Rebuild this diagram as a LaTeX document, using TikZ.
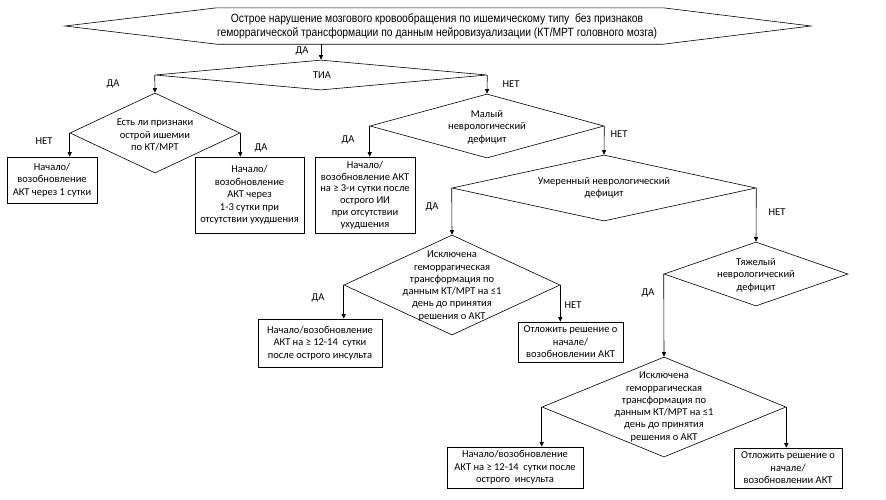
\documentclass[tikz,border=0pt]{standalone}
\usepackage{fontspec}
\setmainfont{Carlito}
\newfontfamily\narrowfont[FakeStretch=0.86]{Liberation Sans}
\usetikzlibrary{shapes.geometric,arrows.meta}
\begin{document}
\begin{tikzpicture}[x=1pt,y=-1pt,
  every node/.style={font=\fontsize{10.5}{12.5}\selectfont},
  dia/.style={draw, diamond, inner sep=0pt, line width=0.6pt},
  box/.style={draw, rectangle, line width=0.6pt, align=center, inner sep=1pt},
  txt/.style={align=center, inner sep=0pt},
  lbl/.style={inner sep=0pt},
  arr/.style={-{Triangle[length=4.5pt,width=4pt]}, line width=0.6pt}]
\useasboundingbox[fill=white] (0,0) rectangle (886,499);

% top hexagon
\node[minimum width=446pt, minimum height=36pt, inner sep=0pt] (top) at (440,26) {};
\draw[line width=0.6pt] (top.north west) -- (top.north east) -- (811,26) -- (top.south east) -- (top.south west) -- (65,26) -- cycle;
\node[txt, font=\narrowfont\fontsize{12}{14}\selectfont] (toptxt) at (437,26) {Острое нарушение мозгового кровообращения по ишемическому типу \ без признаков\\геморрагической трансформации по данным нейровизуализации (КТ/МРТ головного мозга)};

% diamonds
\node[dia, minimum width=332pt, minimum height=30pt] (tia) at (321,75) {};
\node[txt] (tiatxt) at (322,75) {ТИА};
\node[dia, minimum width=170pt, minimum height=80pt] (est) at (155,133) {};
\node[txt] (esttxt) at (155,135) {Есть ли признаки\\острой ишемии\\по КТ/МРТ};
\node[dia, minimum width=234pt, minimum height=64pt] (maly) at (487,126) {};
\node[txt] (malytxt) at (487,127) {Малый\\неврологический\\дефицит};
\node[dia, minimum width=304pt, minimum height=66pt] (umer) at (604,188) {};
\node[txt] (umertxt) at (604,188) {Умеренный неврологический\\дефицит};
\node[dia, minimum width=184pt, minimum height=64pt] (tyazh) at (756,274) {};
\node[txt] (tyazhtxt) at (756,275) {Тяжелый\\неврологический\\дефицит};
\node[dia, minimum width=216pt, minimum height=100pt] (isk1) at (452,285) {};
\node[txt, font=\fontsize{10.5}{12.3}\selectfont] (isk1txt) at (452,286) {Исключена\\геморрагическая\\трансформация по\\данным КТ/МРТ на ≤1\\день до принятия\\решения о АКТ};
\node[dia, minimum width=244pt, minimum height=100pt] (isk2) at (664,407) {};
\node[txt, font=\fontsize{10.5}{12.3}\selectfont] (isk2txt) at (664,407) {Исключена\\геморрагическая\\трансформация по\\данным КТ/МРТ на ≤1\\день до принятия\\решения о АКТ};

% boxes
\node[box, minimum width=90pt, minimum height=46pt] (b1) at (52,180) {Начало/\\возобновление\\АКТ через 1 сутки};
\node[box, minimum width=109pt, minimum height=76pt] (b2) at (249.5,195) {Начало/\\возобновление\\АКТ через\\1-3 сутки при\\отсутствии ухудшения};
\node[box, minimum width=100pt, minimum height=76pt, font=\fontsize{10.5}{11.8}\selectfont] (b3) at (365,195) {Начало/\\возобновление АКТ\\на ≥ 3-и сутки после\\острого ИИ\\при отсутствии\\ухудшения};
\node[box, minimum width=124pt, minimum height=48pt] (b4) at (320,343) {Начало/возобновление\\АКТ на ≥ 12-14 \ сутки\\после острого инсульта};
\node[box, minimum width=105pt, minimum height=40pt] (o1) at (570.5,342) {Отложить решение о\\начале/\\возобновлении АКТ};
\node[box, minimum width=136pt, minimum height=41pt] (b5) at (515,467.5) {Начало/возобновление\\АКТ на ≥ 12-14 \ сутки после\\острого \ инсульта};
\node[box, minimum width=108pt, minimum height=40pt] (b6) at (788,468) {Отложить решение о\\начале/\\возобновлении АКТ};

% connectors
\draw[arr] (top.south -| tia.north) -- (tia.north);
\draw[arr] (tia.west) -- (est.north);
\draw[arr] (tia.east) -- (maly.north);
\draw[arr] (est.west) -- (est.west |- b1.north);
\draw[arr] (est.east) -- (est.east |- b2.north);
\draw[arr] (maly.west) -- (maly.west |- b3.north);
\draw[arr] (maly.east) -- (umer.north);
\draw[arr] (umer.west) -- (isk1.north);
\draw[arr] (umer.east) -- (tyazh.north);
\draw[arr] (isk1.west) -- (isk1.west |- b4.north);
\draw[arr] (isk1.east) -- (isk1.east |- o1.north);
\draw[arr] (tyazh.west) -- (isk2.north);
\draw[arr] (isk2.west) -- (isk2.west |- b5.north);
\draw[arr] (isk2.east) -- (isk2.east |- b6.north);

% labels
\node[lbl] (l1) at (302,51) {ДА};
\node[lbl] (l2) at (113,84) {ДА};
\node[lbl] (l3) at (511,84) {НЕТ};
\node[lbl] (l4) at (44,141) {НЕТ};
\node[lbl] (l5) at (261,148) {ДА};
\node[lbl] (l6) at (348,140) {ДА};
\node[lbl] (l7) at (619,134) {НЕТ};
\node[lbl] (l8) at (432,207) {ДА};
\node[lbl] (l9) at (777,212) {НЕТ};
\node[lbl] (l10) at (318,298) {ДА};
\node[lbl] (l11) at (573,305) {НЕТ};
\node[lbl] (l12) at (648,293) {ДА};
\end{tikzpicture}
\end{document}
